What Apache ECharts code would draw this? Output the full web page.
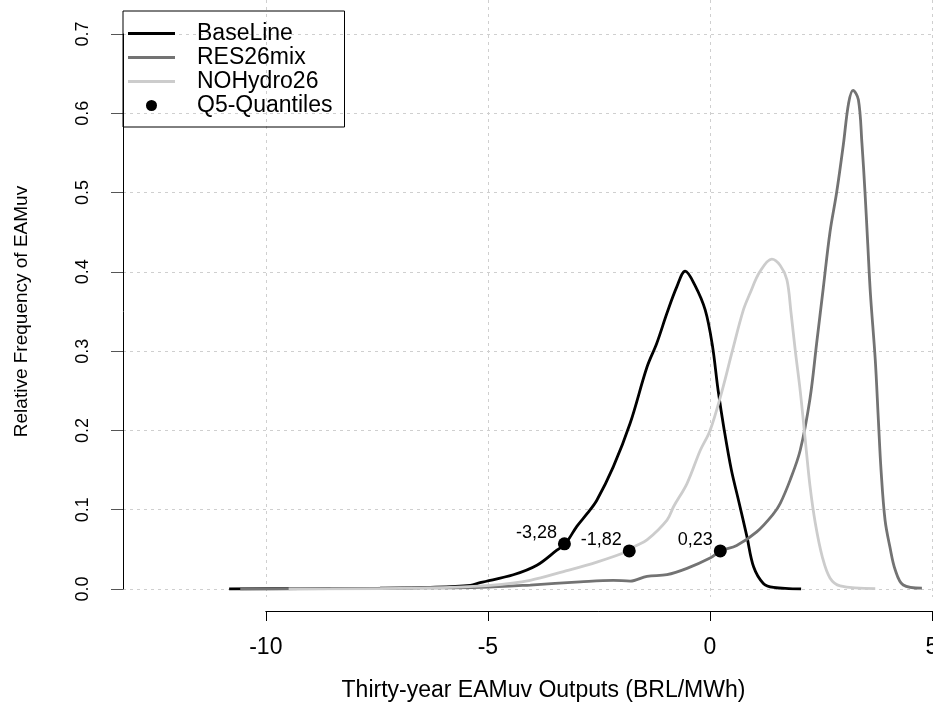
<!DOCTYPE html>
<html>
<head>
<meta charset="utf-8">
<script src="https://cdn.jsdelivr.net/npm/echarts@6/dist/echarts.min.js"></script>
<style>
html,body{margin:0;padding:0;background:#fff;}
#chart{width:933px;height:704px;}
</style>
</head>
<body>
<div id="chart"></div>
<script>
// ---- data ----
const seriesNames = ['BaseLine', 'RES26mix', 'NOHydro26', 'Q5-Quantiles'];

const baseX = [-10.83, -9.23, -7.43, -6.30, -5.40, -5.18, -4.43, -3.90, -3.45, -3.26, -3.00, -2.77, -2.55, -2.18, -1.80, -1.42, -1.20, -0.97, -0.75, -0.56, -0.34, -0.11, 0.05, 0.18, 0.32, 0.48, 0.64, 0.83, 0.98, 1.20, 1.43, 2.05];
const baseY = [0, 0.0005, 0.001, 0.002, 0.0045, 0.008, 0.018, 0.030, 0.049, 0.057, 0.079, 0.095, 0.112, 0.154, 0.209, 0.280, 0.310, 0.348, 0.381, 0.401, 0.383, 0.352, 0.308, 0.251, 0.200, 0.150, 0.112, 0.066, 0.028, 0.007, 0.002, 0.000];

const resX = [-10.58, -8.55, -6.53, -5.18, -4.05, -2.93, -2.18, -1.80, -1.42, -0.97, -0.52, 0.00, 0.24, 0.60, 1.05, 1.43, 1.58, 1.80, 2.03, 2.25, 2.40, 2.55, 2.70, 2.85, 3.00, 3.12, 3.22, 3.34, 3.42, 3.49, 3.55, 3.61, 3.72, 3.79, 3.85, 3.94, 4.05, 4.17, 4.35, 4.77];
const resY = [0, 0.0004, 0.0013, 0.002, 0.005, 0.009, 0.011, 0.010, 0.016, 0.018, 0.026, 0.039, 0.048, 0.055, 0.072, 0.095, 0.108, 0.137, 0.175, 0.240, 0.310, 0.380, 0.450, 0.500, 0.560, 0.613, 0.629, 0.617, 0.562, 0.499, 0.436, 0.373, 0.289, 0.213, 0.150, 0.087, 0.053, 0.024, 0.005, 0.001];

const noX = [-9.49, -7.43, -5.85, -4.95, -4.05, -3.30, -2.55, -1.84, -1.72, -1.42, -0.97, -0.82, -0.52, -0.22, 0.00, 0.27, 0.50, 0.75, 0.90, 1.12, 1.39, 1.58, 1.73, 1.82, 1.92, 2.03, 2.14, 2.25, 2.37, 2.53, 2.70, 2.93, 3.72];
const noY = [0, 0.0005, 0.002, 0.0045, 0.011, 0.022, 0.034, 0.048, 0.053, 0.062, 0.087, 0.104, 0.133, 0.175, 0.200, 0.250, 0.300, 0.352, 0.373, 0.400, 0.416, 0.408, 0.390, 0.350, 0.300, 0.250, 0.190, 0.130, 0.083, 0.040, 0.014, 0.004, 0.0005];

const quantX = [-3.28, -1.82, 0.23];
const quantY = [0.057, 0.048, 0.048];

const xTicks = [-10, -5, 0, 5];
const yTicks = [0, 0.1, 0.2, 0.3, 0.4, 0.5, 0.6, 0.7];

const xTitle = 'Thirty-year EAMuv Outputs (BRL/MWh)';
const yTitle = 'Relative Frequency of EAMuv';

// ---- chart ----
const FONT = '"Liberation Sans", Arial, Helvetica, sans-serif';
const pairs = (xs, ys) => xs.map((x, i) => [x, ys[i]]);
const gridDash = { color: '#cfcfcf', width: 1, type: [3, 4] };
const lineIcon = 'path://M0,0L47,0L47,3L0,3Z';

const chart = echarts.init(document.getElementById('chart'), null, { renderer: 'canvas' });
chart.setOption({
  animation: false,
  backgroundColor: '#fff',
  textStyle: { fontFamily: FONT },
  grid: [
    { left: 123, right: 0, top: 34, bottom: 115, containLabel: false, outerBoundsMode: 'none' },
    { left: 265.8, right: 1, top: 0, bottom: 107, containLabel: false, outerBoundsMode: 'none' },
    { left: 123, right: 0, top: 34, bottom: 115, containLabel: false, outerBoundsMode: 'none' }
  ],
  xAxis: [
    {
      gridIndex: 0, type: 'value', min: -13.22, max: 5.02,
      axisLine: { show: false, onZero: false }, axisTick: { show: false }, axisLabel: { show: false },
      splitLine: { show: false },
      name: xTitle, nameLocation: 'middle', nameGap: 90,
      nameTextStyle: { fontSize: 23, color: '#000', fontFamily: FONT, padding: [0, 0, 0, 31] }
    },
    {
      gridIndex: 1, type: 'value', min: xTicks[0], max: xTicks[xTicks.length - 1], interval: 5,
      offset: 14,
      axisLine: { show: true, onZero: false, lineStyle: { color: '#000', width: 1 } },
      axisTick: { show: true, length: 10, lineStyle: { color: '#000' } },
      axisLabel: { show: true, margin: 25, fontSize: 23, color: '#000', fontFamily: FONT,
                   showMinLabel: true, showMaxLabel: true },
      splitLine: { show: true, lineStyle: gridDash }
    },
    {
      gridIndex: 2, type: 'value', min: 0, max: 1, show: false
    }
  ],
  yAxis: [
    {
      gridIndex: 0, type: 'value', position: 'left', min: yTicks[0], max: yTicks[yTicks.length - 1], interval: 0.1,
      axisLine: { show: false },
      axisTick: { show: false },
      axisLabel: { show: true, rotate: 90, margin: 31, fontSize: 18, color: '#000', fontFamily: FONT,
                   formatter: v => v.toFixed(1) },
      splitLine: { show: true, lineStyle: gridDash },
      name: yTitle, nameLocation: 'middle', nameGap: 92, nameRotate: 90,
      nameTextStyle: { fontSize: 19, color: '#000', fontFamily: FONT }
    },
    { gridIndex: 1, type: 'value', show: false, min: 0, max: 1, splitLine: { show: false } },
    {
      gridIndex: 2, type: 'value', position: 'left', min: yTicks[0], max: yTicks[yTicks.length - 1], interval: 0.1,
      axisLine: { show: true, onZero: false, lineStyle: { color: '#000', width: 1 } },
      axisTick: { show: true, inside: false, length: 12, lineStyle: { color: '#555', width: 1 } },
      axisLabel: { show: false },
      splitLine: { show: false }
    }
  ],
  legend: {
    data: [
      { name: seriesNames[0], icon: lineIcon },
      { name: seriesNames[1], icon: lineIcon },
      { name: seriesNames[2], icon: lineIcon },
      { name: seriesNames[3], icon: 'circle' }
    ],
    orient: 'vertical',
    left: 123, top: 11,
    padding: [11, 12, 10, 5],
    itemGap: 1,
    itemWidth: 47, itemHeight: 11,
    borderColor: '#000', borderWidth: 1,
    selectedMode: false,
    textStyle: { fontSize: 23, lineHeight: 23, color: '#000', fontFamily: FONT, padding: [0, 0, 0, 17] }
  },
  series: [
    {
      name: seriesNames[0], type: 'line', xAxisIndex: 0, yAxisIndex: 0,
      data: pairs(baseX, baseY), symbol: 'none', showSymbol: false,
      smooth: 0.35,
      lineStyle: { color: '#000000', width: 2.8 }, itemStyle: { color: '#000000' }
    },
    {
      name: seriesNames[1], type: 'line', xAxisIndex: 0, yAxisIndex: 0,
      data: pairs(resX, resY), symbol: 'none', showSymbol: false,
      smooth: 0.35,
      lineStyle: { color: '#737373', width: 2.8 }, itemStyle: { color: '#737373' }
    },
    {
      name: seriesNames[2], type: 'line', xAxisIndex: 0, yAxisIndex: 0,
      data: pairs(noX, noY), symbol: 'none', showSymbol: false,
      smooth: 0.35,
      lineStyle: { color: '#cccccc', width: 2.8 }, itemStyle: { color: '#cccccc' }
    },
    {
      name: seriesNames[3], type: 'scatter', xAxisIndex: 0, yAxisIndex: 0,
      data: pairs(quantX, quantY), symbol: 'circle', symbolSize: 13, z: 5,
      itemStyle: { color: '#000', opacity: 1 },
      label: {
        show: true, position: 'left', distance: 0, offset: [-1, -11],
        fontSize: 18, color: '#000', fontFamily: FONT,
        formatter: p => String(p.value[0]).replace('.', ',')
      }
    }
  ]
});
</script>
</body>
</html>
